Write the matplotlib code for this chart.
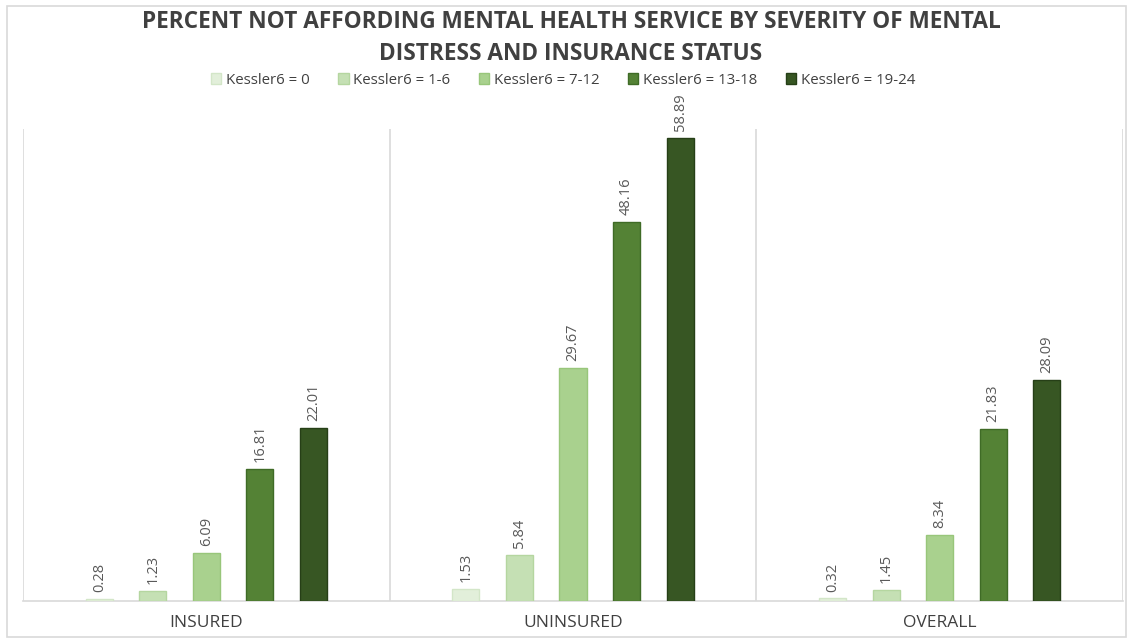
import matplotlib
matplotlib.use("Agg")
import matplotlib.pyplot as plt
from matplotlib.patches import Rectangle
import numpy as np

categories = ["INSURED", "UNINSURED", "OVERALL"]
series_names = ["Kessler6 = 0", "Kessler6 = 1-6", "Kessler6 = 7-12",
                "Kessler6 = 13-18", "Kessler6 = 19-24"]
k0 = [0.28, 1.53, 0.32]
k1_6 = [1.23, 5.84, 1.45]
k7_12 = [6.09, 29.67, 8.34]
k13_18 = [16.81, 48.16, 21.83]
k19_24 = [22.01, 58.89, 28.09]
series_values = [k0, k1_6, k7_12, k13_18, k19_24]
face_colors = ["#E2EFDA", "#C5E0B4", "#A9D18E", "#548235", "#375623"]
edge_colors = ["#D3E6C8", "#B5D6A0", "#98C67A", "#3F6B26", "#263F17"]

title = "PERCENT NOT AFFORDING MENTAL HEALTH SERVICE BY SEVERITY OF MENTAL\nDISTRESS AND INSURANCE STATUS"

W, H = 1132, 638
fig = plt.figure(figsize=(W / 100, H / 100), dpi=100)
fig.patch.set_facecolor("white")

body_font = ["Open Sans", "DejaVu Sans"]

ax = fig.add_axes([23 / W, 1 - 601 / H, (1123 - 23) / W, (601 - 129) / H])
ax.set_xlim(-0.5, 2.5)
ax.set_ylim(0, 60)

x = np.arange(len(categories))
offsets = [-0.292, -0.146, 0.0, 0.146, 0.292]
bw = 0.074
for vals, off, fc, ec, name in zip(series_values, offsets, face_colors, edge_colors, series_names):
    bars = ax.bar(x + off, vals, width=bw, color=fc, edgecolor=ec, linewidth=1.0, label=name, zorder=3)
    for b, v in zip(bars, vals):
        ax.annotate(f"{v:.2f}", (b.get_x() + b.get_width() / 2, b.get_height()),
                    xytext=(0, 5), textcoords="offset points", rotation=90,
                    ha="center", va="bottom", fontsize=10.5, color="#595959",
                    family=body_font)

for s in ["top", "right", "left"]:
    ax.spines[s].set_visible(False)
ax.spines["bottom"].set_color("#D9D9D9")
ax.spines["bottom"].set_linewidth(1.2)
ax.set_yticks([])
for d in [-0.5, 0.5, 1.5, 2.5]:
    ax.axvline(d, color="#D9D9D9", linewidth=1.2, zorder=1)
ax.set_xticks(x)
ax.set_xticklabels(categories, fontsize=12.5, color="#404040", family=body_font)
ax.tick_params(axis="x", length=0, pad=10)

fig.text(571 / W, 1 - 38 / H, title, ha="center", va="center", fontsize=16.3,
         fontweight="bold", color="#404040", family=body_font, linespacing=1.45)

handles = [Rectangle((0, 0), 1, 1, facecolor=fc, edgecolor=ec) for fc, ec in zip(face_colors, edge_colors)]
leg = fig.legend(handles, series_names, loc="center", bbox_to_anchor=(563 / W, 1 - 80 / H),
                 ncol=5, frameon=False, handlelength=0.7, handleheight=0.7,
                 handletextpad=0.3, columnspacing=1.9, prop={"family": body_font, "size": 10.8})
for t in leg.get_texts():
    t.set_color("#404040")

fig.add_artist(Rectangle((7 / W, 1 - 637 / H), (1126 - 7) / W, (637 - 6) / H,
                         transform=fig.transFigure, fill=False, edgecolor="#D9D9D9", linewidth=1.2))

fig.savefig("out.png", dpi=100, facecolor="white")
